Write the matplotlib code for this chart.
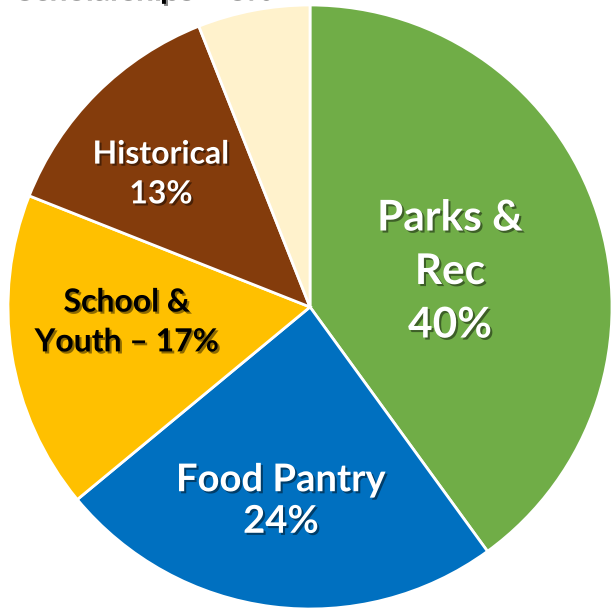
import matplotlib
matplotlib.use("Agg")
import matplotlib.pyplot as plt
import matplotlib.patheffects as pe

categories = ["Parks & Rec", "Food Pantry", "School & Youth", "Historical", "Scholarships"]
values = [40, 24, 17, 13, 6]
colors = ["#70AD47", "#0070C0", "#FFC000", "#843C0C", "#FFF2CC"]
labels = ["Parks &\nRec\n40%", "Food Pantry\n24%", "School &\nYouth \u2013 17%", "Historical\n13%", None]
title_text = "Scholarships \u2013 6%"

fig = plt.figure(figsize=(6.11, 6.11), dpi=100)
ax = fig.add_axes([0, 0, 1, 1])

cx, cy, r = 310, 304, 302
wedges, _ = ax.pie(values, colors=colors, startangle=90, counterclock=False,
                   center=(cx, cy), radius=r, frame=True,
                   wedgeprops=dict(edgecolor="white", linewidth=2))
ax.set_xlim(0, 611)
ax.set_ylim(0, 611)
ax.set_aspect("equal")
ax.axis("off")

shadow = [pe.SimplePatchShadow(offset=(1.5, -1.5), shadow_rgbFace="black", alpha=0.45), pe.Normal()]
font = "Lato"

# label positions (pixel coordinates, y from top)
label_specs = [
    (450, 272, 30.5, "white", 1.5),
    (281, 501, 27.5, "white", 1.27),
    (127, 322, 23, "black", 1.45),
    (161, 174, 23, "white", 1.45),
]
for lab, (x, y, fs, col, ls) in zip(labels, label_specs):
    if lab is None:
        continue
    ax.text(x, 611 - y, lab, ha="center", va="center", fontsize=fs, color=col,
            fontweight="bold", family=font, linespacing=ls, path_effects=shadow)

ax.text(143, 611 + 11, title_text, ha="center", va="center", fontsize=23,
        color="black", fontweight="bold", family=font, path_effects=shadow,
        clip_on=False)

fig.savefig("out.png", dpi=100)
